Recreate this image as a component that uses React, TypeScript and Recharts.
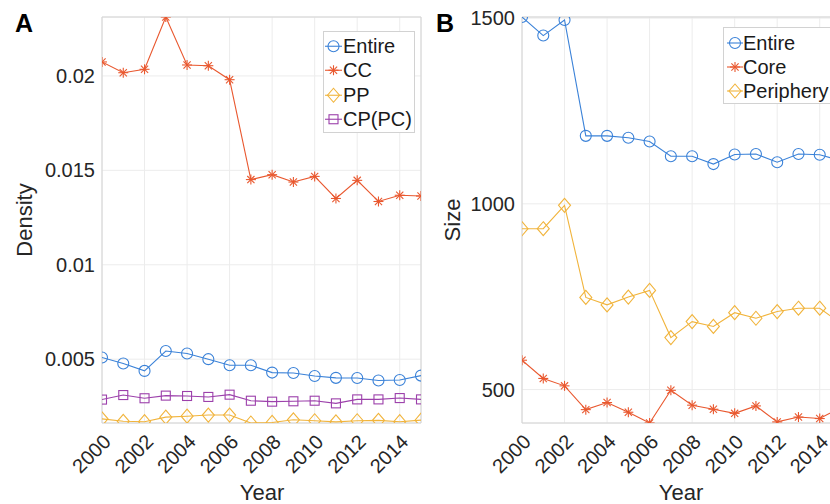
import { LineChart, Line, XAxis, YAxis, CartesianGrid, Legend, ReferenceArea } from "recharts";

const FONT = '"Liberation Sans", Arial, Helvetica, sans-serif';
const TEXT = "#262626";

const years = [2000, 2001, 2002, 2003, 2004, 2005, 2006, 2007, 2008, 2009, 2010, 2011, 2012, 2013, 2014, 2015];
const yearTicks = [2000, 2002, 2004, 2006, 2008, 2010, 2012, 2014];

// panel A - density
const densityEntire = [0.00509, 0.00477, 0.00438, 0.00543, 0.0053, 0.005, 0.00468, 0.00468, 0.00429, 0.00427, 0.00411, 0.00401, 0.004, 0.00387, 0.0039, 0.00413];
const densityCC = [0.02074, 0.02017, 0.02035, 0.02312, 0.02058, 0.02054, 0.0198, 0.01451, 0.01477, 0.01438, 0.01468, 0.01351, 0.01447, 0.01335, 0.01368, 0.01364];
const densityPP = [0.00184, 0.00171, 0.00169, 0.00193, 0.00198, 0.00204, 0.00204, 0.00162, 0.00165, 0.00179, 0.00174, 0.00168, 0.00174, 0.00176, 0.00169, 0.00177];
const densityCP = [0.00286, 0.0031, 0.00293, 0.00307, 0.00305, 0.003, 0.00312, 0.0028, 0.00275, 0.00277, 0.0028, 0.00266, 0.00287, 0.00287, 0.00294, 0.00287];
const densityTicks = [0.005, 0.01, 0.015, 0.02];
const densityDomain = [0.00162, 0.02312];

// panel B - size
const sizeEntire = [1503, 1453, 1495, 1183, 1183, 1178, 1168, 1128, 1128, 1107, 1133, 1134, 1112, 1134, 1132, 1116];
const sizeCore = [579, 530, 510, 446, 465, 439, 410, 498, 458, 447, 436, 456, 413, 426, 422, 452];
const sizePeriphery = [933, 933, 996, 748, 728, 749, 767, 640, 683, 670, 707, 692, 710, 719, 719, 678];
const sizeTicks = [500, 1000, 1500];
const sizeDomain = [410, 1503];

const BLUE = "#3b82d8";
const RED = "#e9582f";
const YELLOW = "#f1b43c";
const PURPLE = "#9c40ab";

const densityData = years.map((y, i) => ({
  year: y,
  entire: densityEntire[i],
  cc: densityCC[i],
  pp: densityPP[i],
  cp: densityCP[i],
}));

const sizeData = years.map((y, i) => ({
  year: y,
  entire: sizeEntire[i],
  core: sizeCore[i],
  periphery: sizePeriphery[i],
}));

type Shape = "circle" | "star" | "diamond" | "square";

function Marker({ shape, cx, cy, color }: { shape: Shape; cx: number; cy: number; color: string }) {
  const sw = 1.1;
  if (shape === "circle") return <circle cx={cx} cy={cy} r={5.5} fill="none" stroke={color} strokeWidth={sw} />;
  if (shape === "square") return <rect x={cx - 4.5} y={cy - 4.5} width={9} height={9} fill="none" stroke={color} strokeWidth={sw} />;
  if (shape === "diamond")
    return <path d={`M${cx},${cy - 7}L${cx + 6},${cy}L${cx},${cy + 7}L${cx - 6},${cy}Z`} fill="none" stroke={color} strokeWidth={sw} />;
  const d = 5;
  const e = 3.6;
  return (
    <g stroke={color} strokeWidth={sw}>
      <line x1={cx - d} y1={cy} x2={cx + d} y2={cy} />
      <line x1={cx} y1={cy - d} x2={cx} y2={cy + d} />
      <line x1={cx - e} y1={cy - e} x2={cx + e} y2={cy + e} />
      <line x1={cx - e} y1={cy + e} x2={cx + e} y2={cy - e} />
    </g>
  );
}

const dotOf = (shape: Shape, color: string, name: string) => (p: any) => (
  <g key={`${name}-${p.index}`}>
    <Marker shape={shape} cx={p.cx} cy={p.cy} color={color} />
  </g>
);

function YearTick({ x, y, payload }: any) {
  const ax = x + 10;
  const ay = y + 20;
  return (
    <text x={ax} y={ay} transform={`rotate(-45 ${ax} ${ay})`} textAnchor="end" fontSize={20} fill={TEXT} fontFamily={FONT}>
      {payload.value}
    </text>
  );
}

type Item = { name: string; color: string; shape: Shape };

function LegendBox({ items, rowH, padTop, width, lineFrom, lineTo }: { items: Item[]; rowH: number; padTop: number; width: number; lineFrom: number; lineTo: number }) {
  return (
    <div style={{ border: "1px solid #d2d2d2", background: "#fff", paddingTop: padTop, width, boxSizing: "border-box", fontFamily: FONT }}>
      {items.map((it) => (
        <div key={it.name} style={{ display: "flex", alignItems: "center", height: rowH }}>
          <svg width={19} height={rowH} style={{ flex: "none" }}>
            <line x1={lineFrom} x2={lineTo} y1={rowH / 2} y2={rowH / 2} stroke={it.color} strokeWidth={1.1} />
            <Marker shape={it.shape} cx={(lineFrom + lineTo) / 2} cy={rowH / 2} color={it.color} />
          </svg>
          <span style={{ fontSize: 20, color: "#1a1a1a", lineHeight: 1, whiteSpace: "nowrap" }}>{it.name}</span>
        </div>
      ))}
    </div>
  );
}

const legendA: Item[] = [
  { name: "Entire", color: BLUE, shape: "circle" },
  { name: "CC", color: RED, shape: "star" },
  { name: "PP", color: YELLOW, shape: "diamond" },
  { name: "CP(PC)", color: PURPLE, shape: "square" },
];

const legendB: Item[] = [
  { name: "Entire", color: BLUE, shape: "circle" },
  { name: "Core", color: RED, shape: "star" },
  { name: "Periphery", color: YELLOW, shape: "diamond" },
];

const margin = { top: 17, right: 9, left: 22, bottom: 21 };

export default function App() {
  return (
    <div style={{ position: "absolute", left: 0, top: 0, width: 830, height: 504, overflow: "hidden", background: "#fff", fontFamily: FONT }}>
      <div style={{ position: "absolute", left: 0, top: 0 }}>
        <LineChart width={430} height={504} data={densityData} margin={margin}>
          <CartesianGrid stroke="#ececec" strokeWidth={1} />
          <XAxis dataKey="year" type="number" domain={[2000, 2015]} ticks={yearTicks} allowDataOverflow axisLine={false} tickLine={false} tickSize={0} tickMargin={0} height={60} tick={<YearTick />} interval={0} />
          <YAxis type="number" domain={densityDomain} ticks={densityTicks} allowDataOverflow axisLine={false} tickLine={false} tickSize={0} tickMargin={7} width={80} tick={{ fontSize: 20, fill: TEXT, fontFamily: FONT }} interval={0} />
          <ReferenceArea x1={2000} x2={2015} y1={densityDomain[0]} y2={densityDomain[1]} fill="none" stroke="#d4d4d4" strokeWidth={1} ifOverflow="visible" />
          <Line dataKey="cc" stroke={RED} strokeWidth={1.1} dot={dotOf("star", RED, "cc")} isAnimationActive={false} />
          <Line dataKey="entire" stroke={BLUE} strokeWidth={1.1} dot={dotOf("circle", BLUE, "entire")} isAnimationActive={false} />
          <Line dataKey="cp" stroke={PURPLE} strokeWidth={1.1} dot={dotOf("square", PURPLE, "cp")} isAnimationActive={false} />
          <Line dataKey="pp" stroke={YELLOW} strokeWidth={1.1} dot={dotOf("diamond", YELLOW, "pp")} isAnimationActive={false} />
          <Legend
            layout="vertical"
            align="center"
            verticalAlign="middle"
            wrapperStyle={{ left: 323, top: 31, width: 92 }}
            content={() => <LegendBox items={legendA} rowH={24.5} padTop={1.5} width={92} lineFrom={1} lineTo={18} />}
          />
        </LineChart>
      </div>

      <div style={{ position: "absolute", left: 420, top: 0 }}>
        <LineChart width={440} height={504} data={sizeData} margin={{ ...margin, right: 19 }}>
          <CartesianGrid stroke="#ececec" strokeWidth={1} />
          <XAxis dataKey="year" type="number" domain={[2000, 2015]} ticks={yearTicks} allowDataOverflow axisLine={false} tickLine={false} tickSize={0} tickMargin={0} height={60} tick={<YearTick />} interval={0} />
          <YAxis type="number" domain={sizeDomain} ticks={sizeTicks} allowDataOverflow axisLine={false} tickLine={false} tickSize={0} tickMargin={7} width={80} tick={{ fontSize: 20, fill: TEXT, fontFamily: FONT }} interval={0} />
          <ReferenceArea x1={2000} x2={2015} y1={sizeDomain[0]} y2={sizeDomain[1]} fill="none" stroke="#d4d4d4" strokeWidth={1} ifOverflow="visible" />
          <Line dataKey="entire" stroke={BLUE} strokeWidth={1.1} dot={dotOf("circle", BLUE, "entire")} isAnimationActive={false} />
          <Line dataKey="core" stroke={RED} strokeWidth={1.1} dot={dotOf("star", RED, "core")} isAnimationActive={false} />
          <Line dataKey="periphery" stroke={YELLOW} strokeWidth={1.1} dot={dotOf("diamond", YELLOW, "periphery")} isAnimationActive={false} />
          <Legend
            layout="vertical"
            align="center"
            verticalAlign="middle"
            wrapperStyle={{ left: 303, top: 27, width: 130 }}
            content={() => <LegendBox items={legendB} rowH={24} padTop={3} width={130} lineFrom={3} lineTo={19} />}
          />
        </LineChart>
      </div>

      <svg width={830} height={504} style={{ position: "absolute", left: 0, top: 0, pointerEvents: "none" }} fontFamily={FONT}>
        <text x={15} y={32} fontSize={25} fontWeight="bold" fill="#000">A</text>
        <text x={436} y={32} fontSize={25} fontWeight="bold" fill="#000">B</text>
        <text x={32} y={220} fontSize={22} fill={TEXT} textAnchor="middle" transform="rotate(-90 32 220)">Density</text>
        <text x={460} y={220} fontSize={22} fill={TEXT} textAnchor="middle" transform="rotate(-90 460 220)">Size</text>
        <text x={262} y={500} fontSize={22} fill={TEXT} textAnchor="middle">Year</text>
        <text x={681} y={500} fontSize={22} fill={TEXT} textAnchor="middle">Year</text>
      </svg>
    </div>
  );
}
